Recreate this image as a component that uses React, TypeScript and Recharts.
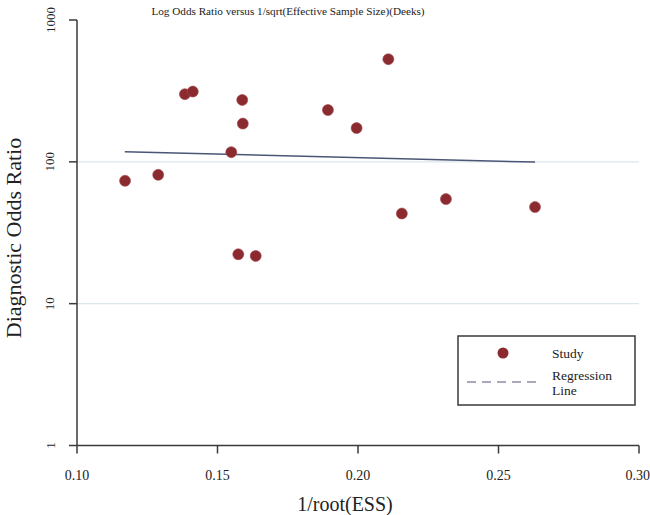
import { ScatterChart, Scatter, XAxis, YAxis, ReferenceLine, Customized } from 'recharts';

const studyX = [0.1171, 0.1289, 0.1384, 0.1412, 0.1549, 0.1574, 0.1588, 0.159, 0.1636, 0.1893, 0.1995, 0.2108, 0.2156, 0.2313, 0.263];
const studyY = [73.5, 81, 300, 313, 117, 22.3, 273, 186, 21.7, 232, 173, 529, 43.2, 54.6, 48];
const regX = [0.117, 0.263];
const regY = [118, 99.6];
const xTicks = [0.1, 0.15, 0.2, 0.25, 0.3];
const yTicks = [1, 10, 100, 1000];
const gridAt = [10, 100];

const studies = studyX.map((x, i) => ({ x, y: studyY[i] }));
const regression = regX.map((x, i) => ({ x, y: regY[i] }));

const FONT = '"Liberation Serif", "Times New Roman", serif';
const AXIS = '#3a3a3a';
const DOT = '#8b2b30';

const Dot = (props: any) => <circle cx={props.cx} cy={props.cy} r={5.5} fill={DOT} stroke="#a0484c" strokeWidth={0.6} />;
const NoDot = () => <g />;

const YTick = (props: any) => {
  const { y, payload } = props;
  return (
    <text x={50} y={y} transform={`rotate(-90, 50, ${y})`} textAnchor="middle" dominantBaseline="central"
      fontFamily={FONT} fontSize={13} fill="#222">
      {payload.value}
    </text>
  );
};

const Extras = () => (
  <g fontFamily={FONT} fill="#222">
    <text x={288} y={11} textAnchor="middle" dominantBaseline="central" fontSize={11.2}>
      Log Odds Ratio versus 1/sqrt(Effective Sample Size)(Deeks)
    </text>
    <text x={345} y={504} textAnchor="middle" dominantBaseline="central" fontSize={20}>1/root(ESS)</text>
    <text x={13} y={238} transform="rotate(-90, 13, 238)" textAnchor="middle" dominantBaseline="central" fontSize={22}>
      Diagnostic Odds Ratio
    </text>
    <rect x={458} y={336} width={177} height={69} fill="#fff" stroke={AXIS} strokeWidth={1.5} />
    <circle cx={503} cy={353} r={5.5} fill={DOT} />
    <text x={552} y={353} dominantBaseline="central" fontSize={13.5}>Study</text>
    <line x1={467} y1={382} x2={539} y2={382} stroke="#8a8fa8" strokeWidth={1.5} strokeDasharray="9 6" />
    <text x={552} y={375} dominantBaseline="central" fontSize={13.5}>Regression</text>
    <text x={552} y={390} dominantBaseline="central" fontSize={13.5}>Line</text>
  </g>
);

export default function App() {
  return (
    <div style={{ position: 'absolute', left: 0, top: 0 }}>
      <ScatterChart width={650} height={515} margin={{ top: 20, right: 11, bottom: 0, left: 0 }}>
        <XAxis
          type="number"
          dataKey="x"
          domain={[0.1, 0.3]}
          ticks={xTicks}
          tickFormatter={(v: number) => v.toFixed(2)}
          height={69.5}
          tickSize={8}
          tickMargin={17}
          axisLine={{ stroke: AXIS, strokeWidth: 1.5 }}
          tickLine={{ stroke: AXIS, strokeWidth: 1.5 }}
          tick={{ fontFamily: FONT, fontSize: 14, fill: '#222' }}
          allowDataOverflow
        />
        <YAxis
          type="number"
          dataKey="y"
          scale="log"
          domain={[1, 1000]}
          ticks={yTicks}
          width={77}
          tickSize={8}
          axisLine={{ stroke: AXIS, strokeWidth: 1.5 }}
          tickLine={{ stroke: AXIS, strokeWidth: 1.5 }}
          tick={<YTick />}
          allowDataOverflow
        />
        {gridAt.map((g) => (
          <ReferenceLine key={g} y={g} stroke="#dce7ec" strokeWidth={1.2} />
        ))}
        <Scatter data={regression} line={{ stroke: '#4b5677', strokeWidth: 1.5 }} shape={<NoDot />} isAnimationActive={false} />
        <Scatter data={studies} shape={<Dot />} isAnimationActive={false} />
        <Customized component={Extras} />
      </ScatterChart>
    </div>
  );
}
